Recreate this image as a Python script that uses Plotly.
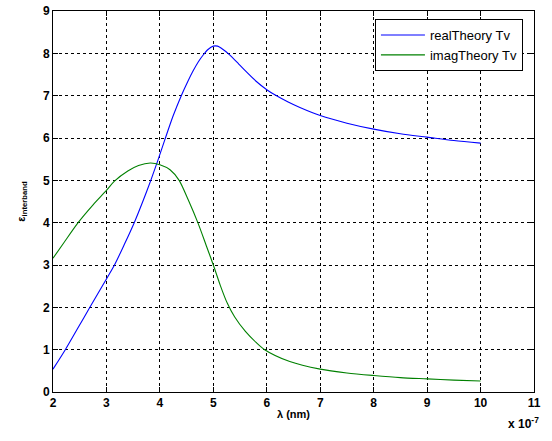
import plotly.graph_objects as go

# wavelength in units of 1e-7 m
real_x = [2.0, 2.23, 2.46, 2.69, 2.92, 3.15, 3.34, 3.52, 3.68, 3.83, 3.97, 4.09, 4.25, 4.40, 4.52,
          4.62, 4.72, 4.81, 4.9, 5.0, 5.08, 5.15, 5.3, 5.48, 5.62, 5.8, 6.0, 6.15, 6.4, 6.62,
          7.0, 7.5, 8.0, 8.5, 9.0, 9.5, 10.0]
real_y = [0.54, 1.0, 1.5, 2.0, 2.5, 3.0, 3.5, 4.0, 4.5, 5.0, 5.5, 5.95, 6.53, 7.0, 7.33,
          7.58, 7.80, 7.96, 8.09, 8.17, 8.17, 8.12, 7.97, 7.74, 7.56, 7.34, 7.14, 7.02, 6.85, 6.72,
          6.53, 6.35, 6.21, 6.1, 6.02, 5.94, 5.88]

imag_x = [2.0, 2.2, 2.47, 2.75, 3.0, 3.15, 3.4, 3.6, 3.82, 4.0, 4.19, 4.36, 4.53, 4.71, 4.87,
          5.0, 5.13, 5.26, 5.4, 5.6, 5.8, 5.96, 6.43, 7.0, 7.5, 8.0, 8.5, 9.0, 9.5, 10.0]
imag_y = [3.16, 3.52, 4.0, 4.42, 4.76, 4.98, 5.22, 5.35, 5.41, 5.37, 5.25, 5.0, 4.54, 4.0, 3.45,
          3.0, 2.52, 2.1, 1.77, 1.43, 1.17, 1.0, 0.72, 0.54, 0.45, 0.39, 0.34, 0.31, 0.28, 0.26]

x_ticks = [2, 3, 4, 5, 6, 7, 8, 9, 10, 11]
y_ticks = [0, 1, 2, 3, 4, 5, 6, 7, 8, 9]

fig = go.Figure()
fig.add_trace(go.Scatter(x=real_x, y=real_y, mode="lines", name="realTheory Tv",
                         line=dict(color="#0000FF", width=1.1, shape="spline", smoothing=0.8)))
fig.add_trace(go.Scatter(x=imag_x, y=imag_y, mode="lines", name="imagTheory Tv",
                         line=dict(color="#008000", width=1.1, shape="spline", smoothing=0.8)))

tickfont = dict(family="Liberation Sans, Arial", size=12, color="black", weight="bold")
axis_common = dict(showline=True, linecolor="black", linewidth=1, mirror="ticks",
                   ticks="inside", ticklen=5, tickcolor="black",
                   showgrid=True, gridcolor="black", griddash="3px,3px", gridwidth=1,
                   zeroline=False, tickfont=tickfont, automargin=False)

fig.update_layout(
    width=552, height=441,
    margin=dict(l=53, r=18, t=11, b=49, autoexpand=False),
    paper_bgcolor="white", plot_bgcolor="white",
    showlegend=True,
    legend=dict(x=0.977, y=0.979, xanchor="right", yanchor="top",
                bgcolor="white", bordercolor="black", borderwidth=1,
                font=dict(family="Liberation Sans, Arial", size=13, color="black"),
                itemwidth=44, tracegroupgap=0),
    xaxis=dict(range=[2, 11], tickvals=x_ticks, ticktext=[str(v) for v in x_ticks],
               title=dict(text="λ (nm)", font=dict(family="Liberation Sans, Arial", size=11,
                                                    color="black", weight="bold"), standoff=0),
               **axis_common),
    yaxis=dict(range=[0, 9], tickvals=y_ticks, ticktext=[str(v) for v in y_ticks],
               title=dict(text="ε<sub>interband</sub>", font=dict(family="Liberation Sans, Arial", size=11,
                                                                  color="black", weight="bold"), standoff=15),
               **axis_common),
    annotations=[dict(text="x 10<sup>-7</sup>", xref="paper", yref="paper", x=1.0146, y=-0.081,
                      xanchor="right", yanchor="middle", showarrow=False,
                      font=dict(family="Liberation Sans, Arial", size=12, color="black", weight="bold"))],
)

fig.write_html("out.html", config={"displayModeBar": False},
               post_script="document.body.style.margin='0';document.body.style.overflow='hidden';")
